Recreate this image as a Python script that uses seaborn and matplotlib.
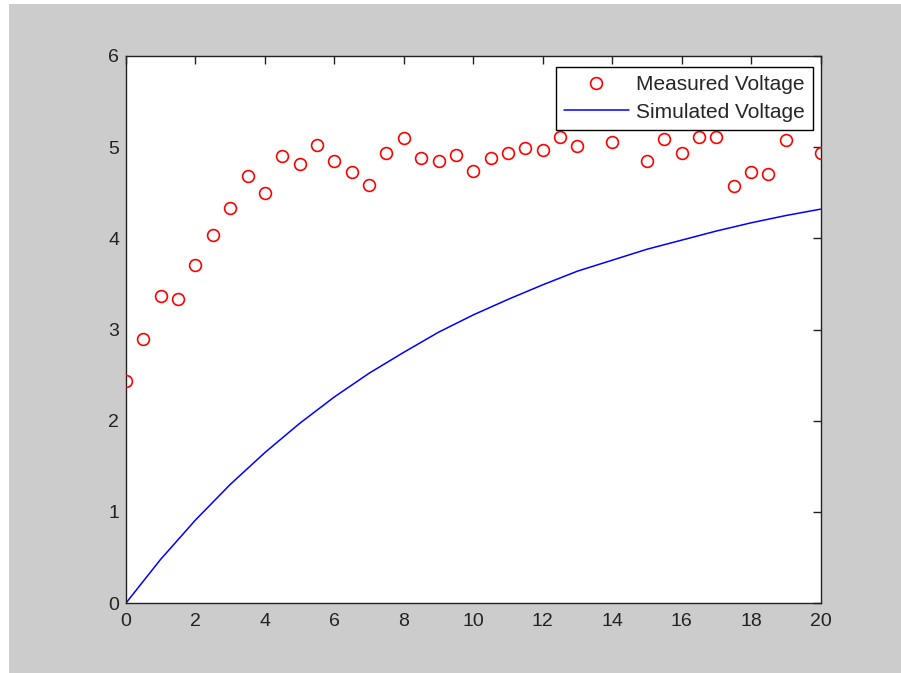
import numpy as np
import pandas as pd
import matplotlib
matplotlib.use("Agg")
import matplotlib.pyplot as plt
import seaborn as sns
from matplotlib.patches import Rectangle
from matplotlib.lines import Line2D

# measured points (13.5, 14.5, 19.5 sit behind the legend)
t_meas = [0, 0.5, 1, 1.5, 2, 2.5, 3, 3.5, 4, 4.5, 5, 5.5, 6, 6.5, 7, 7.5, 8, 8.5,
          9, 9.5, 10, 10.5, 11, 11.5, 12, 12.5, 13, 13.5, 14, 14.5, 15, 15.5, 16,
          16.5, 17, 17.5, 18, 18.5, 19, 19.5, 20]
v_meas = [2.44, 2.90, 3.37, 3.34, 3.71, 4.04, 4.33, 4.68, 4.50, 4.90, 4.82, 5.02,
          4.85, 4.73, 4.59, 4.94, 5.10, 4.88, 4.85, 4.91, 4.74, 4.88, 4.94, 4.99,
          4.97, 5.11, 5.01, 5.50, 5.06, 5.50, 4.85, 5.09, 4.94, 5.11, 5.11, 4.57,
          4.73, 4.71, 5.08, 5.50, 4.94]

# simulated curve
t_sim = [0, 1, 2, 3, 4, 5, 6, 7, 8, 9, 10, 11, 12, 13, 14, 15, 16, 17, 18, 19, 20]
v_sim = [0.0, 0.48, 0.91, 1.30, 1.65, 1.97, 2.26, 2.52, 2.75, 2.97, 3.16, 3.33,
         3.49, 3.64, 3.76, 3.88, 3.98, 4.08, 4.17, 4.25, 4.32]

x_ticks = list(range(0, 21, 2))
y_ticks = list(range(0, 7))

meas = pd.DataFrame({"t": t_meas, "v": v_meas})
sim = pd.DataFrame({"t": t_sim, "v": v_sim})

sns.set_style("white")
plt.rcParams['font.family'] = ['Liberation Sans', 'DejaVu Sans']

fig = plt.figure(figsize=(9.01, 6.73), dpi=100)
fig.patch.set_facecolor("white")
# grey MATLAB figure background (white strip on left and top)
fig.patches.append(Rectangle((9 / 901, 0), 1, 1 - 4 / 673, transform=fig.transFigure,
                             facecolor="#cccccc", edgecolor="none", zorder=-10))

ax = fig.add_axes([126 / 901, 70 / 673, 694.5 / 901, 547 / 673])
ax.set_facecolor("white")

sns.lineplot(data=sim, x="t", y="v", ax=ax, color="blue", linewidth=1.1, zorder=2)
sns.lineplot(data=meas, x="t", y="v", ax=ax, linestyle="none", marker="o",
             markersize=8.5, markerfacecolor="none", markeredgecolor="red",
             markeredgewidth=1.2, zorder=3)

ax.set_xlim(0, 20)
ax.set_ylim(0, 6)
ax.set_xticks(x_ticks)
ax.set_yticks(y_ticks)
ax.set_xlabel("")
ax.set_ylabel("")
ax.tick_params(direction="in", length=5.5, width=1, color="#222222",
               top=True, right=True, labelsize=14, labelcolor="#222222")
ax.tick_params(axis="x", pad=7)
ax.tick_params(axis="y", pad=5)
for s in ax.spines.values():
    s.set_visible(True)
    s.set_color("#222222")
    s.set_linewidth(1.0)

handles = [Line2D([], [], linestyle="none", marker="o", markersize=8.5,
                  markerfacecolor="none", markeredgecolor="red", markeredgewidth=1.2),
           Line2D([], [], color="blue", linewidth=1.1)]
leg = ax.legend(handles, ["Measured Voltage", "Simulated Voltage"], loc="upper right",
                bbox_to_anchor=(0.989, 0.980), borderaxespad=0,
                fontsize=15, frameon=True, fancybox=False, framealpha=1,
                edgecolor="black", handlelength=3.1,
                handletextpad=0.34, borderpad=0.4, labelspacing=0.4)
leg.get_frame().set_linewidth(1.0)
leg.set_zorder(5)

fig.savefig("out.png", dpi=100, facecolor=fig.get_facecolor())
